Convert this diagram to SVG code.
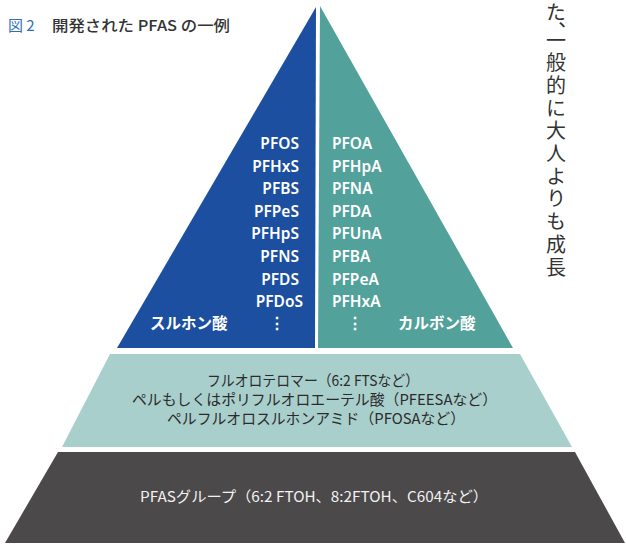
<svg xmlns="http://www.w3.org/2000/svg" width="626" height="548" viewBox="0 0 626 548">
<style>
.lst{font-family:"Noto Sans","Open Sans",sans-serif;font-weight:600;font-size:15.5px;fill:#ffffff}
.jpw{font-family:"Noto Sans CJK JP","Noto Sans",sans-serif;font-weight:700;font-size:15.5px;fill:#ffffff}
.mid{font-family:"Noto Sans CJK JP","Noto Sans",sans-serif;font-size:15px;fill:#2b2b2b}
.bot{font-family:"Noto Sans CJK JP","Noto Sans",sans-serif;font-size:14.5px;fill:#f2f2f2}
.vt{font-family:"Noto Sans CJK JP",sans-serif;font-size:20px;fill:#333333}
</style>
<rect width="626" height="548" fill="#ffffff"/>
<g id="title">
<text x="8" y="31" font-family="Noto Sans CJK JP, sans-serif" font-size="15" fill="#2f6db5">図 2</text>
<text x="52" y="31" font-family="Noto Sans CJK JP, sans-serif" font-size="15" font-weight="500" fill="#333333" textLength="178" lengthAdjust="spacingAndGlyphs">開発された PFAS の一例</text>
</g>
<g id="sulfonic">
<polygon points="316,7 315,348 117,348" fill="#1c4f9f"/>
<text class="lst" text-anchor="end">
<tspan x="303" y="149">PFOS</tspan>
<tspan x="303" y="171.6">PFHxS</tspan>
<tspan x="303" y="194.2">PFBS</tspan>
<tspan x="303" y="216.8">PFPeS</tspan>
<tspan x="303" y="239.4">PFHpS</tspan>
<tspan x="303" y="262">PFNS</tspan>
<tspan x="303" y="284.6">PFDS</tspan>
<tspan x="303" y="307.2">PFDoS</tspan>
</text>
<text class="jpw" x="150" y="329">スルホン酸</text>
<text class="jpw" x="277" y="329" text-anchor="middle">⋮</text>
</g>
<g id="carboxylic">
<polygon points="320,6 513,348 318,348" fill="#53a19b"/>
<text class="lst">
<tspan x="332" y="149">PFOA</tspan>
<tspan x="332" y="171.6">PFHpA</tspan>
<tspan x="332" y="194.2">PFNA</tspan>
<tspan x="332" y="216.8">PFDA</tspan>
<tspan x="332" y="239.4">PFUnA</tspan>
<tspan x="332" y="262">PFBA</tspan>
<tspan x="332" y="284.6">PFPeA</tspan>
<tspan x="332" y="307.2">PFHxA</tspan>
</text>
<text class="jpw" x="355" y="329" text-anchor="middle">⋮</text>
<text class="jpw" x="398" y="329">カルボン酸</text>
</g>
<g id="middle">
<polygon points="110,354 520,354 572,447 62,447" fill="#a9cfcc"/>
<text class="mid" x="313" y="386" text-anchor="middle" textLength="212" lengthAdjust="spacingAndGlyphs">フルオロテロマー（6:2 FTSなど）</text>
<text class="mid" x="314.5" y="405" text-anchor="middle" textLength="365" lengthAdjust="spacingAndGlyphs">ペルもしくはポリフルオロエーテル酸（PFEESAなど）</text>
<text class="mid" x="316" y="424" text-anchor="middle" textLength="298" lengthAdjust="spacingAndGlyphs">ペルフルオロスルホンアミド（PFOSAなど）</text>
</g>
<g id="bottom">
<polygon points="58,452 575,452 625,543 5,543" fill="#4b4949"/>
<text class="bot" x="314" y="502" text-anchor="middle" textLength="348" lengthAdjust="spacingAndGlyphs">PFASグループ（6:2 FTOH、8:2FTOH、C604など）</text>
</g>
<g id="sidetext">
<text class="vt" x="556" writing-mode="vertical-rl"><tspan y="2">た</tspan><tspan y="21" style="font-feature-settings:'vhal' 1">、</tspan><tspan y="30" letter-spacing="2.7">一般的に大人よりも成長</tspan></text>
</g>
</svg>
